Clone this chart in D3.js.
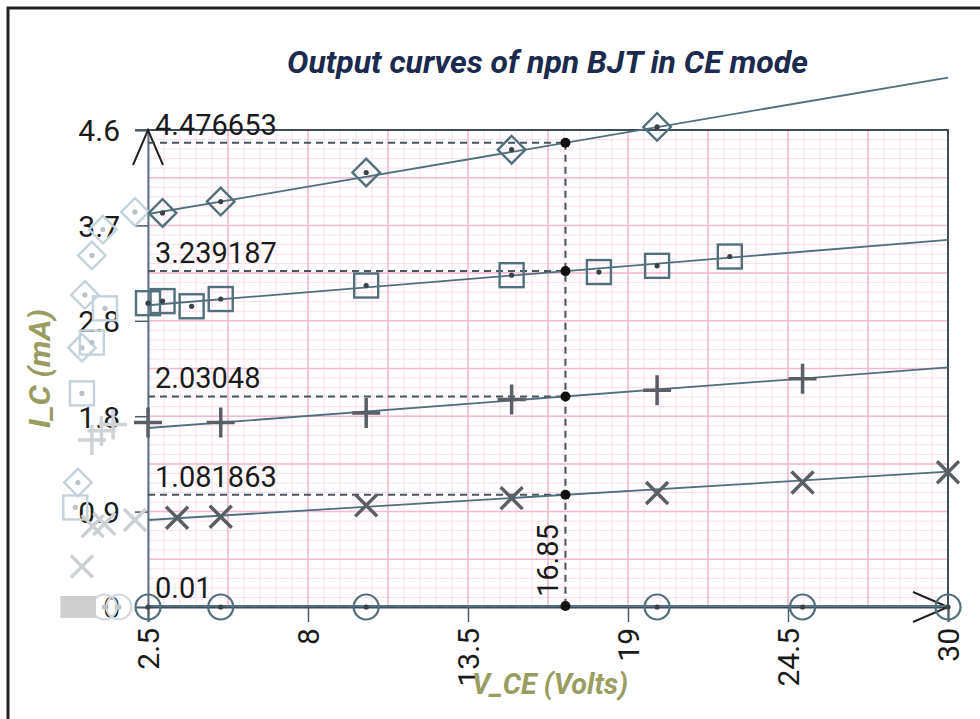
<!DOCTYPE html>
<html>
<head>
<meta charset="utf-8">
<title>Output curves of npn BJT in CE mode</title>
<script src="https://d3js.org/d3.v7.min.js"></script>
<style>
  body { margin: 0; background: #fff; }
  svg { display: block; }
</style>
</head>
<body>
<div id="chart"></div>
<script>
// ---- data ----
var xTicks = [2.5, 8, 13.5, 19, 24.5, 30];
var yTicks = [0, 0.92, 1.84, 2.76, 3.68, 4.6];
var yTickLabels = ["0", "0.9", "1.8", "2.8", "3.7", "4.6"];

// measured points, one array pair per base current
var diamondV = [3, 5, 10, 15, 20];
var diamondI = [3.80, 3.91, 4.19, 4.41, 4.63];
var squareV = [2.5, 3, 4, 5, 10, 15, 18, 20, 22.5];
var squareI = [2.93, 2.95, 2.90, 2.97, 3.10, 3.20, 3.23, 3.29, 3.38];
var plusV = [2.5, 5, 10, 15, 20, 25];
var plusI = [1.78, 1.78, 1.87, 2.00, 2.09, 2.20];
var crossV = [3.5, 5, 10, 15, 20, 25, 30];
var crossI = [0.86, 0.87, 0.98, 1.05, 1.10, 1.20, 1.30];
var circleV = [2.5, 5, 10, 20, 25, 30];
var circleI = [0, 0, 0, 0, 0, 0];

// faded points left of the axis (saturation region)
var ghostDiamondV = [2.05, 0.95, 0.57, 0.33, 0.23, 0.09];
var ghostDiamondI = [3.81, 3.64, 3.39, 3.01, 2.50, 1.20];
var ghostSquareV = [1.02, 0.57, 0.23, 0.0];
var ghostSquareI = [2.88, 2.55, 2.06, 0.96];
var ghostPlusV = [0.57, 0.9, 1.3];
var ghostPlusI = [1.61, 1.70, 1.76];
var ghostCrossV = [2.05, 0.6, 1.0, 0.23];
var ghostCrossI = [0.84, 0.78, 0.80, 0.39];
var ghostCircleV = [1.0, 1.5];
var ghostCircleI = [0, 0];
var ghostBlockV = [-0.1, 0.3];
var ghostBlockI = [0, 0];

// fitted lines: current at V = 2.5 and at V = 30
var fitStartI = [3.79, 2.91, 1.726, 0.839, 0.01];
var fitEndI = [5.106, 3.541, 2.310, 1.305, 0.01];
var fitV = [2.5, 30];

// read-out at the operating voltage
var readV = 16.85;
var readI = [4.476653, 3.239187, 2.03048, 1.081863, 0.01];
var readLabels = ["4.476653", "3.239187", "2.03048", "1.081863", "0.01"];

// ---- drawing ----
var W = 980, H = 719;
var svg = d3.select("#chart").append("svg")
  .attr("width", W).attr("height", H);

svg.append("rect").attr("width", W).attr("height", H).attr("fill", "#fff");

var x = d3.scaleLinear().domain([2.5, 30]).range([148, 948]);
var y = d3.scaleLinear().domain([0, 4.6]).range([607, 130]);

// graph paper grid
var grid = svg.append("g");
var minorX = d3.range(2.5, 30.001, 0.55);
var minorY = d3.range(0, 4.601, 0.092);
var majorX = d3.range(2.5, 30.001, 2.75);
var majorY = d3.range(0, 4.601, 0.46);

grid.selectAll(".mx").data(minorX).enter().append("line")
  .attr("x1", d => x(d)).attr("x2", d => x(d))
  .attr("y1", y(4.6)).attr("y2", y(0))
  .attr("stroke", "#fadfea").attr("stroke-width", 1);
grid.selectAll(".my").data(minorY).enter().append("line")
  .attr("x1", x(2.5)).attr("x2", x(30))
  .attr("y1", d => y(d)).attr("y2", d => y(d))
  .attr("stroke", "#fadfea").attr("stroke-width", 1);
grid.selectAll(".Mx").data(majorX).enter().append("line")
  .attr("x1", d => x(d)).attr("x2", d => x(d))
  .attr("y1", y(4.6)).attr("y2", y(0))
  .attr("stroke", "#f4b9d2").attr("stroke-width", 1.5);
grid.selectAll(".My").data(majorY).enter().append("line")
  .attr("x1", x(2.5)).attr("x2", x(30))
  .attr("y1", d => y(d)).attr("y2", d => y(d))
  .attr("stroke", "#f4b9d2").attr("stroke-width", 1.5);

// outer border of the screenshot (top and left only)
svg.append("path")
  .attr("d", "M8," + H + "V8H" + W)
  .attr("fill", "none").attr("stroke", "#222").attr("stroke-width", 3);

// plot frame top/right
svg.append("path")
  .attr("d", "M" + (x(2.5) - 13) + "," + y(4.6) + "H" + x(30) + "V" + y(0))
  .attr("fill", "none").attr("stroke", "#3d4b5c").attr("stroke-width", 2);

// axes
var yAxis = d3.axisLeft(y).tickValues(yTicks)
  .tickFormat((d, i) => yTickLabels[i]).tickSize(13).tickPadding(15);
var gy = svg.append("g").attr("transform", "translate(" + x(2.5) + ",0)").call(yAxis);
gy.select(".domain").attr("stroke", "#5b7582").attr("stroke-width", 2);
gy.selectAll(".tick line").attr("stroke", "#4a5a66").attr("stroke-width", 1.5);
gy.selectAll(".tick text")
  .attr("font-family", "Roboto, sans-serif").attr("font-size", 30)
  .attr("fill", "#1a1a1a").attr("dy", "0.36em");

var xAxis = d3.axisBottom(x).tickValues(xTicks).tickSize(15).tickFormat(d3.format(""));
var gx = svg.append("g").attr("transform", "translate(0," + y(0) + ")").call(xAxis);
gx.select(".domain").attr("stroke", "#3d4b5c").attr("stroke-width", 2);
gx.selectAll(".tick line").attr("stroke", "#4a5a66").attr("stroke-width", 1.5);
gx.selectAll(".tick text")
  .attr("font-family", "Roboto, sans-serif").attr("font-size", 30)
  .attr("fill", "#1a1a1a")
  .attr("text-anchor", "end")
  .attr("transform", "translate(10,21) rotate(-90)")
  .attr("x", 0).attr("y", 0).attr("dy", 0);

// axis arrows
svg.append("path")
  .attr("d", "M" + (x(2.5) - 15) + "," + (y(4.6) + 35) + "L" + x(2.5) + "," + y(4.6) +
             "L" + (x(2.5) + 15) + "," + (y(4.6) + 35))
  .attr("fill", "none").attr("stroke", "#222").attr("stroke-width", 2);
svg.append("path")
  .attr("d", "M" + (x(30) - 35) + "," + (y(0) - 15) + "L" + x(30) + "," + y(0) +
             "L" + (x(30) - 35) + "," + (y(0) + 15))
  .attr("fill", "none").attr("stroke", "#222").attr("stroke-width", 2);

// dashed read-out lines
var dash = svg.append("g")
  .attr("stroke", "#46555f").attr("stroke-width", 2).attr("stroke-dasharray", "7,5");
dash.selectAll("line.h").data(readI).enter().append("line")
  .attr("x1", x(2.5)).attr("x2", x(readV))
  .attr("y1", d => y(d)).attr("y2", d => y(d));
dash.append("line")
  .attr("x1", x(readV)).attr("x2", x(readV))
  .attr("y1", y(d3.max(readI))).attr("y2", y(0));

// fitted lines
var fits = fitStartI.map((d, i) => [[fitV[0], d], [fitV[1], fitEndI[i]]]);
var line = d3.line().x(d => x(d[0])).y(d => y(d[1]));
svg.selectAll(".fit").data(fits).enter().append("path")
  .attr("d", line)
  .attr("fill", "none").attr("stroke", "#4f6f7c").attr("stroke-width", 1.8);

// markers
function pts(vs, is) { return vs.map((v, i) => [v, is[i]]); }

function drawDiamonds(data, color, dotColor) {
  var g = svg.append("g");
  g.selectAll("path").data(data).enter().append("path")
    .attr("d", d3.symbol().type(d3.symbolSquare).size(380))
    .attr("transform", d => "translate(" + x(d[0]) + "," + y(d[1]) + ") rotate(45)")
    .attr("fill", "none").attr("stroke", color).attr("stroke-width", 2.4);
  g.selectAll("circle").data(data).enter().append("circle")
    .attr("cx", d => x(d[0])).attr("cy", d => y(d[1])).attr("r", 2.6).attr("fill", dotColor);
}
function drawSquares(data, color, dotColor) {
  var g = svg.append("g");
  g.selectAll("rect").data(data).enter().append("rect")
    .attr("x", d => x(d[0]) - 12).attr("y", d => y(d[1]) - 12)
    .attr("width", 24).attr("height", 24)
    .attr("fill", "none").attr("stroke", color).attr("stroke-width", 2.4);
  g.selectAll("circle").data(data).enter().append("circle")
    .attr("cx", d => x(d[0])).attr("cy", d => y(d[1])).attr("r", 2.6).attr("fill", dotColor);
}
function drawPlus(data, color) {
  svg.append("g").selectAll("path").data(data).enter().append("path")
    .attr("d", d => {
      var cx = x(d[0]), cy = y(d[1]);
      return "M" + (cx - 14) + "," + cy + "H" + (cx + 14) + "M" + cx + "," + (cy - 15) + "V" + (cy + 15);
    })
    .attr("fill", "none").attr("stroke", color).attr("stroke-width", 3.5);
}
function drawCross(data, color) {
  svg.append("g").selectAll("path").data(data).enter().append("path")
    .attr("d", d => {
      var cx = x(d[0]), cy = y(d[1]);
      return "M" + (cx - 11) + "," + (cy - 11) + "L" + (cx + 11) + "," + (cy + 11) +
             "M" + (cx - 11) + "," + (cy + 11) + "L" + (cx + 11) + "," + (cy - 11);
    })
    .attr("fill", "none").attr("stroke", color).attr("stroke-width", 3.5);
}
function drawCircles(data, color, dotColor) {
  var g = svg.append("g");
  g.selectAll("circle.o").data(data).enter().append("circle")
    .attr("cx", d => x(d[0])).attr("cy", d => y(d[1])).attr("r", 12.5)
    .attr("fill", "none").attr("stroke", color).attr("stroke-width", 2.2);
  g.selectAll("circle.d").data(data).enter().append("circle")
    .attr("cx", d => x(d[0])).attr("cy", d => y(d[1])).attr("r", 2.6).attr("fill", dotColor);
}

// faded ghosts first
var ghostC = "#c3d2db", ghostDot = "#b9c2c8";
drawDiamonds(pts(ghostDiamondV, ghostDiamondI), ghostC, ghostDot);
drawSquares(pts(ghostSquareV, ghostSquareI), ghostC, ghostDot);
drawPlus(pts(ghostPlusV, ghostPlusI), "#cfd3d6");
drawCross(pts(ghostCrossV, ghostCrossI), "#cdd1d4");
drawCircles(pts(ghostCircleV, ghostCircleI), "#d3d9dd", ghostDot);
svg.append("g").selectAll("rect").data(pts(ghostBlockV, ghostBlockI)).enter().append("rect")
  .attr("x", d => x(d[0]) - 12).attr("y", d => y(d[1]) - 11)
  .attr("width", 24).attr("height", 22).attr("fill", "#cfcfcf");

var markC = "#52707c", dotC = "#3a4248", crossC = "#595f64";
drawDiamonds(pts(diamondV, diamondI), markC, dotC);
drawSquares(pts(squareV, squareI), markC, dotC);
drawPlus(pts(plusV, plusI), crossC);
drawCross(pts(crossV, crossI), crossC);
drawCircles(pts(circleV, circleI), markC, dotC);

// read-out dots and labels
svg.selectAll(".rd").data(readI).enter().append("circle")
  .attr("cx", x(readV)).attr("cy", d => y(d)).attr("r", 5).attr("fill", "#111");
svg.selectAll(".rl").data(readI).enter().append("text")
  .attr("x", x(2.5) + 7).attr("y", d => y(d) - 8)
  .attr("font-family", "Roboto, sans-serif").attr("font-size", 29).attr("fill", "#1a1a1a")
  .text((d, i) => readLabels[i]);
svg.append("text")
  .attr("transform", "translate(" + (x(readV) - 7) + "," + (y(0) - 10) + ") rotate(-90)")
  .attr("font-family", "Roboto, sans-serif").attr("font-size", 29).attr("fill", "#1a1a1a")
  .text(String(readV));

// titles
svg.append("text")
  .attr("x", 287).attr("y", 73)
  .attr("textLength", 521).attr("lengthAdjust", "spacingAndGlyphs")
  .attr("font-family", "Roboto, sans-serif").attr("font-weight", "bold")
  .attr("font-style", "italic").attr("font-size", 32).attr("fill", "#1b2a4e")
  .text("Output curves of npn BJT in CE mode");

svg.append("text")
  .attr("x", 472).attr("y", 694)
  .attr("textLength", 156).attr("lengthAdjust", "spacingAndGlyphs")
  .attr("font-family", "Roboto, sans-serif").attr("font-weight", "bold")
  .attr("font-style", "italic").attr("font-size", 29).attr("fill", "#999d62")
  .text("V_CE (Volts)");

svg.append("text")
  .attr("transform", "translate(50,428) rotate(-90)")
  .attr("textLength", 119).attr("lengthAdjust", "spacingAndGlyphs")
  .attr("font-family", "Roboto, sans-serif").attr("font-weight", "bold")
  .attr("font-style", "italic").attr("font-size", 29).attr("fill", "#999d62")
  .text("I_C (mA)");
</script>
</body>
</html>
